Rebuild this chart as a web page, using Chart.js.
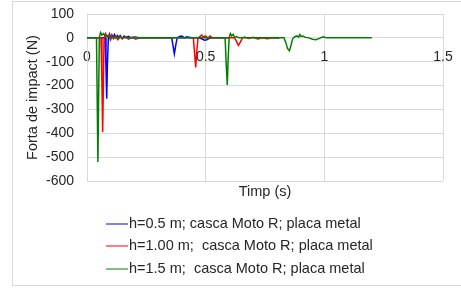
<!DOCTYPE html>
<html><head><meta charset="utf-8">
<script src="https://cdn.jsdelivr.net/npm/chart.js@4.4.0/dist/chart.umd.min.js"></script>
<style>
html,body{margin:0;padding:0;background:#fff;}
#wrap{position:relative;width:461px;height:298px;overflow:hidden;background:#fff;}
#frame{position:absolute;left:12px;top:1px;width:470px;height:285px;border:1px solid #d9d9d9;box-sizing:border-box;}
canvas{position:absolute;left:0;top:0;}
</style></head><body>
<div id="wrap"><div id="frame"></div><canvas id="c" width="461" height="298"></canvas></div>
<script>
const seriesLabels = [
  "h=0.5 m; casca Moto R; placa metal",
  "h=1.00 m;  casca Moto R; placa metal",
  "h=1.5 m;  casca Moto R; placa metal"
];
const seriesColors = ["#0000ff", "#ff0000", "#008000"];

const xTicks = [0, 0.5, 1, 1.5];
const xTickLabels = ["0", "0.5", "1", "1.5"];
const yTicks = [100, 0, -100, -200, -300, -400, -500, -600];
const yTickLabels = ["100", "0", "-100", "-200", "-300", "-400", "-500", "-600"];

const blueT = [0, 0.06, 0.076, 0.080, 0.083, 0.086, 0.090, 0.095, 0.100, 0.105, 0.110, 0.116, 0.122, 0.128, 0.134, 0.140, 0.148, 0.156, 0.165, 0.175, 0.185, 0.20, 0.22, 0.25, 0.30, 0.34, 0.357, 0.362, 0.368, 0.374, 0.38, 0.39, 0.40, 0.41, 0.42, 0.44, 0.47, 0.485, 0.495, 0.505, 0.515, 0.53, 0.56, 0.60];
const blueF = [0, 0, 0, -120, -255, -110, 0, 15, -5, 12, 2, 14, 0, 10, 3, 10, -3, 8, 2, 6, 0, 4, 0, 0, 0, 0, 0, -30, -67, -30, 0, 6, 8, 0, 4, 0, 0, -5, -10, -8, -2, 0, 0, 0];

const redT = [0, 0.055, 0.059, 0.063, 0.066, 0.069, 0.072, 0.078, 0.085, 0.092, 0.098, 0.105, 0.112, 0.12, 0.13, 0.14, 0.15, 0.16, 0.175, 0.19, 0.205, 0.22, 0.25, 0.30, 0.35, 0.40, 0.44, 0.448, 0.453, 0.458, 0.463, 0.468, 0.475, 0.483, 0.49, 0.50, 0.51, 0.518, 0.53, 0.55, 0.58, 0.61, 0.622, 0.63, 0.638, 0.645, 0.655, 0.665, 0.68, 0.70, 0.72, 0.74, 0.76, 0.78, 0.81];
const redF = [0, 0, 0, -200, -395, -200, 0, 18, 5, 12, -6, 10, -4, 8, -8, 5, -3, 6, -5, 3, -6, 0, 0, 0, 0, 0, 0, 0, -60, -124, -50, 0, 5, 12, 4, 8, -2, 8, 0, 0, 0, 0, 0, -15, -32, -20, 0, 3, -3, 2, -5, 0, -4, 0, -2];

const greenT = [0, 0.036, 0.040, 0.043, 0.046, 0.049, 0.052, 0.057, 0.063, 0.070, 0.078, 0.09, 0.10, 0.12, 0.15, 0.2, 0.3, 0.4, 0.5, 0.55, 0.578, 0.582, 0.586, 0.591, 0.595, 0.599, 0.604, 0.61, 0.616, 0.622, 0.63, 0.64, 0.66, 0.70, 0.75, 0.80, 0.83, 0.838, 0.845, 0.853, 0.86, 0.866, 0.875, 0.885, 0.892, 0.897, 0.902, 0.91, 0.92, 0.935, 0.95, 0.965, 0.98, 0.995, 1.01, 1.05, 1.1, 1.15, 1.2];
const greenF = [0, 0, 0, -260, -520, -250, 0, 22, 12, 18, 5, 8, 0, 3, 0, 0, 0, 0, 0, 0, 0, 0, -100, -197, -80, 0, 18, 8, 15, 2, 5, 0, 0, 0, 0, 0, 0, -20, -45, -54, -30, -5, 5, 8, 3, 14, 6, 8, 2, 0, -6, -8, -2, 4, 0, 0, 0, 0, 0];

const FONT = '"Liberation Sans", Arial, sans-serif';
const TEXT = '#262626';
const GRID = '#d9d9d9';

function pts(t, f) { return t.map((v, i) => ({x: v, y: f[i]})); }

const legendPlugin = {
  id: 'vlegend',
  afterDraw(chart) {
    const ctx = chart.ctx;
    ctx.save();
    ctx.font = '14.5px ' + FONT;
    ctx.textBaseline = 'middle';
    ctx.textAlign = 'left';
    const rowY0 = 223.5, rowGap = 22.8, x0 = 106, lineW = 22;
    chart.data.datasets.forEach((ds, i) => {
      const y = rowY0 + i * rowGap;
      ctx.strokeStyle = ds.borderColor;
      ctx.lineWidth = 1;
      ctx.beginPath();
      ctx.moveTo(x0, Math.round(y));
      ctx.lineTo(x0 + lineW, Math.round(y));
      ctx.stroke();
      ctx.fillStyle = TEXT;
      ctx.fillText(ds.label, x0 + lineW + 1, y);
    });
    ctx.restore();
  }
};

const datasets = [
  {label: seriesLabels[0], data: pts(blueT, blueF), borderColor: seriesColors[0], order: 2},
  {label: seriesLabels[1], data: pts(redT, redF), borderColor: seriesColors[1], order: 1},
  {label: seriesLabels[2], data: pts(greenT, greenF), borderColor: seriesColors[2], order: 0}
].map(d => Object.assign(d, {showLine: true, pointRadius: 0, borderWidth: 1.5, tension: 0, fill: false}));

new Chart(document.getElementById('c'), {
  type: 'scatter',
  data: {datasets},
  options: {
    responsive: false,
    animation: false,
    layout: {padding: {left: 20, top: 14, right: 18, bottom: 97}},
    plugins: {legend: {display: false}, tooltip: {enabled: false}},
    scales: {
      x: {
        type: 'linear', position: {y: 0}, min: 0, max: 1.5,
        afterBuildTicks: s => { s.ticks = xTicks.map(v => ({value: v})); },
        ticks: {padding: 0, color: TEXT, font: {family: FONT, size: 14},
          callback: v => xTickLabels[xTicks.indexOf(v)]},
        grid: {color: GRID, lineWidth: 1, drawTicks: true, tickLength: 11, tickColor: 'rgba(0,0,0,0)'},
        border: {display: true, color: GRID}
      },
      x2: {
        type: 'linear', axis: 'x', position: 'bottom', min: 0, max: 1.5,
        ticks: {display: false}, grid: {display: false}, border: {display: false},
        title: {display: true, text: 'Timp (s)', color: TEXT, font: {family: FONT, size: 14.5}, padding: {top: 0, bottom: 0}},
        afterFit: s => { s.height = 20; }
      },
      y: {
        type: 'linear', position: 'left', min: -600, max: 100,
        afterBuildTicks: s => { s.ticks = yTicks.map(v => ({value: v})); },
        ticks: {padding: 0, color: TEXT, font: {family: FONT, size: 14},
          callback: v => yTickLabels[yTicks.indexOf(v)]},
        grid: {color: GRID, lineWidth: 1, drawTicks: true, tickLength: 13, tickColor: 'rgba(0,0,0,0)'},
        border: {display: true, color: GRID},
        title: {display: true, text: 'Forta de impact (N)', color: TEXT, font: {family: FONT, size: 14.5}, padding: {top: 4, bottom: 4}},
        afterFit: s => { s.width = 67; }
      }
    }
  },
  plugins: [legendPlugin]
});
</script>
</body></html>
